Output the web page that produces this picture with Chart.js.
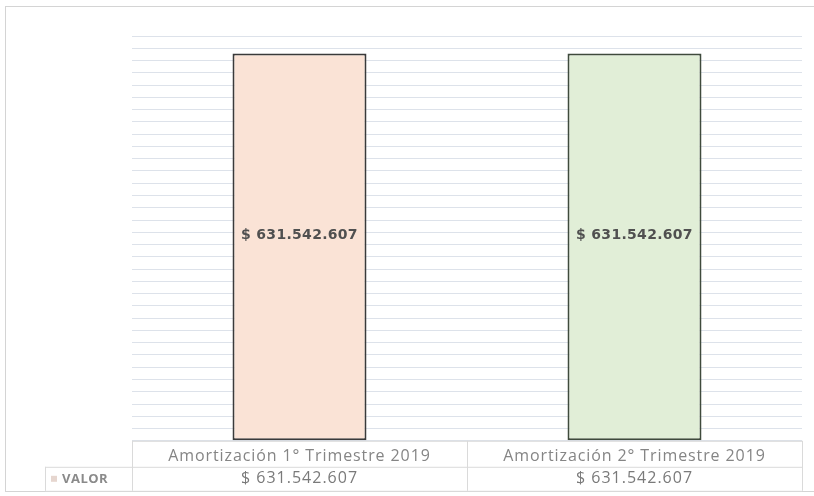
<!DOCTYPE html>
<html>
<head>
<meta charset="utf-8">
<script src="https://cdn.jsdelivr.net/npm/chart.js@4.4.0/dist/chart.umd.min.js"></script>
<style>
  body { margin: 0; background: #fff; }
  #frame {
    position: absolute; left: 5px; top: 6px; width: 820px; height: 486px;
    border: 1px solid #d4d4d4; box-sizing: border-box;
  }
  canvas { position: absolute; left: 0; top: 0; }
</style>
</head>
<body>
<div id="frame"></div>
<canvas id="myChart" width="814" height="496"></canvas>
<script>
const categories = ["Amortización 1° Trimestre 2019", "Amortización 2° Trimestre 2019"];
const values = [631542607, 631542607];
const valueLabels = ["$ 631.542.607", "$ 631.542.607"];
const seriesName = "VALOR";

const ctx = document.getElementById("myChart");

// espaciado de letras para los textos del eje
const spacing = {
  id: "spacing",
  beforeDraw(chart) {
    chart.ctx.letterSpacing = "0.9px";
  },
};

// etiquetas dentro de las barras
const barLabels = {
  id: "barLabels",
  afterDatasetsDraw(chart) {
    const c = chart.ctx;
    const meta = chart.getDatasetMeta(0);
    c.save();
    c.letterSpacing = "0.3px";
    c.font = "bold 14px 'DejaVu Sans'";
    c.fillStyle = "#505050";
    c.textAlign = "center";
    c.textBaseline = "middle";
    meta.data.forEach((bar, i) => {
      c.fillText(valueLabels[i], bar.x, (bar.y + bar.base) / 2 - 12);
    });
    c.restore();
  },
};

// tabla de datos bajo el eje
const dataTable = {
  id: "dataTable",
  afterDraw(chart) {
    const c = chart.ctx;
    const x = chart.scales.x;
    const area = chart.chartArea;
    const row1 = area.bottom + 26;
    const row2 = row1 + 24;
    const left = area.left;
    const right = area.right;
    const mid = (x.getPixelForValue(0) + x.getPixelForValue(1)) / 2;
    c.save();
    c.strokeStyle = "#dadada";
    c.lineWidth = 1;
    c.beginPath();
    c.moveTo(left, area.bottom + 0.5); c.lineTo(right, area.bottom + 0.5);
    c.moveTo(left, row1 + 0.5); c.lineTo(right, row1 + 0.5);
    c.moveTo(45, row2 + 0.5); c.lineTo(right, row2 + 0.5);
    c.moveTo(45, row1 + 0.5); c.lineTo(left, row1 + 0.5);
    [left, mid, right].forEach(px => {
      c.moveTo(Math.round(px) + 0.5, area.bottom); c.lineTo(Math.round(px) + 0.5, row2);
    });
    c.moveTo(45.5, row1); c.lineTo(45.5, row2);
    c.stroke();

    c.letterSpacing = "1px";
    c.font = "16px 'Open Sans'";
    c.fillStyle = "#7a7a7a";
    c.textAlign = "center";
    c.textBaseline = "middle";
    values.forEach((v, i) => {
      c.fillText(valueLabels[i], x.getPixelForValue(i), (row1 + row2) / 2);
    });
    c.fillStyle = "#e6d6cf";
    c.fillRect(51, (row1 + row2) / 2 - 3, 6, 6);
    c.letterSpacing = "0.5px";
    c.font = "bold 13px 'Open Sans'";
    c.fillStyle = "#8a8a8a";
    c.textAlign = "left";
    c.fillText(seriesName, 62, (row1 + row2) / 2);
    c.restore();
  },
};

new Chart(ctx, {
  type: "bar",
  data: {
    labels: categories,
    datasets: [
      {
        label: seriesName,
        data: values,
        backgroundColor: ["#fae3d6", "#e1eed7"],
        borderColor: ["#3a3a3a", "#3f4a3c"],
        borderWidth: 2,
        borderSkipped: false,
        categoryPercentage: 1,
        barPercentage: 0.4,
      },
    ],
  },
  options: {
    responsive: false,
    animation: false,
    layout: { padding: { left: 132, right: 12, top: 36, bottom: 24 } },
    plugins: {
      legend: { display: false },
      tooltip: { enabled: false },
    },
    scales: {
      x: {
        grid: { display: false, drawTicks: false },
        border: { display: false },
        ticks: {
          color: "#858585",
          font: { family: "'Open Sans'", size: 16 },
          padding: 6,
          maxRotation: 0,
        },
      },
      y: {
        beginAtZero: true,
        min: 0,
        max: 660000000,
        grid: { color: "#dde2ea", drawTicks: false },
        border: { display: false },
        ticks: { display: false, stepSize: 20000000 },
      },
    },
  },
  plugins: [spacing, barLabels, dataTable],
});
</script>
</body>
</html>
